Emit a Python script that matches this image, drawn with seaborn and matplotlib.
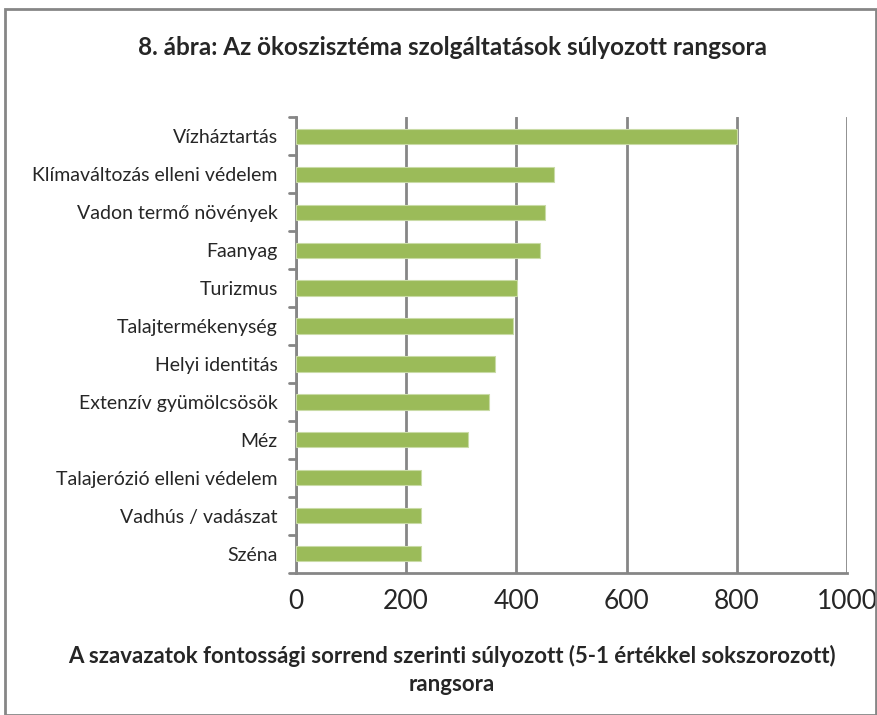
import pandas as pd
import seaborn as sns
import matplotlib.pyplot as plt
from matplotlib.patches import Rectangle

services = ["Vízháztartás", "Klímaváltozás elleni védelem", "Vadon termő növények",
            "Faanyag", "Turizmus", "Talajtermékenység", "Helyi identitás",
            "Extenzív gyümölcsösök", "Méz", "Talajerózió elleni védelem",
            "Vadhús / vadászat", "Széna"]
scores = [800, 468, 452, 443, 401, 394, 361, 351, 312, 227, 227, 227]
xticks = [0, 200, 400, 600, 800, 1000]

df = pd.DataFrame({"service": services, "score": scores})

sns.set_theme(style="white")
plt.rcParams['font.family'] = ['Lato', 'DejaVu Sans']

fig = plt.figure(figsize=(8.78, 7.15), dpi=100)
ax = fig.add_axes([0.337, 0.199, 0.628, 0.637])

sns.barplot(data=df, x="score", y="service", color="#9bbb59", saturation=1,
            width=0.4, edgecolor="#c9dba6", linewidth=0.8, ax=ax, zorder=3)

ax.set_xlim(0, 1000)
ax.set_xticks(xticks)
ax.set_xticklabels([str(t) for t in xticks], fontsize=19)
ax.set_ylim(len(services) - 0.5, -0.5)
ax.tick_params(axis="y", labelsize=14, length=0, pad=13)
ax.tick_params(axis="x", length=6, width=2, color="#868686", direction="out", pad=6)
ax.xaxis.grid(True, color="#868686", linewidth=2, zorder=0)
ax.set_axisbelow(True)
for sp in ["top", "right"]:
    ax.spines[sp].set_visible(False)
for sp in ["left", "bottom"]:
    ax.spines[sp].set_color("#868686")
    ax.spines[sp].set_linewidth(2)
# category separator ticks on the y axis
for i in range(len(services) + 1):
    ax.plot([-0.012, 0], [i - 0.5, i - 0.5], transform=ax.get_yaxis_transform(),
            color="#868686", linewidth=2, clip_on=False)
ax.set_xlabel("")
ax.set_ylabel("")

fig.text(0.515, 0.933, "8. ábra: Az ökoszisztéma szolgáltatások súlyozott rangsora",
         ha="center", va="center", fontsize=17.5, fontweight="bold")
fig.text(0.515, 0.063, "A szavazatok fontossági sorrend szerinti súlyozott (5-1 értékkel sokszorozott)\nrangsora",
         ha="center", va="center", fontsize=16, fontweight="bold", linespacing=1.4)

fig.patches.append(Rectangle((0.006, 0.0), 0.992, 0.987, transform=fig.transFigure,
                             fill=False, edgecolor="#868686", linewidth=2))

fig.savefig("out.png", dpi=100)
